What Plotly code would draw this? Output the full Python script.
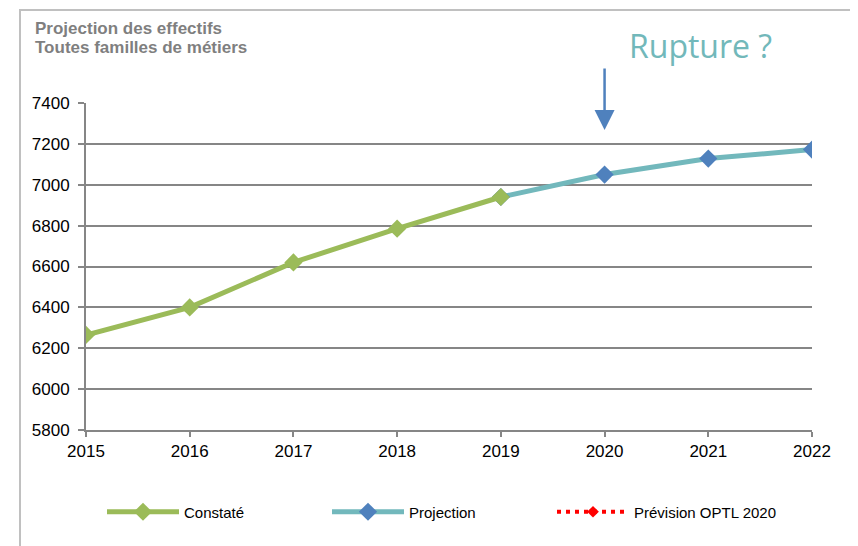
import plotly.graph_objects as go

years = [2015, 2016, 2017, 2018, 2019, 2020, 2021, 2022]
constate = [6265, 6400, 6620, 6785, 6940, None, None, None]
projection = [None, None, None, None, 6940, 7050, 7128, 7172]
prevision_optl = [None, None, None, None, None, None, None, None]

title_lines = ["Projection des effectifs", "Toutes familles de métiers"]
y_ticks = [5800, 6000, 6200, 6400, 6600, 6800, 7000, 7200, 7400]

GREEN = "#9BBB59"
TEAL = "#72B8BC"
BLUE = "#4F81BD"
FONT = "Liberation Sans, Arial, sans-serif"

fig = go.Figure()
fig.add_trace(go.Scatter(
    x=years, y=projection, name="Projection", mode="lines+markers",
    line=dict(color=TEAL, width=5),
    marker=dict(symbol="diamond", size=14, color=BLUE),
    legendrank=2,
))
fig.add_trace(go.Scatter(
    x=years, y=constate, name="Constaté", mode="lines+markers",
    line=dict(color=GREEN, width=5),
    marker=dict(symbol="diamond", size=14, color=GREEN),
    legendrank=1,
))
fig.add_trace(go.Scatter(
    x=years, y=prevision_optl, name="Prévision OPTL 2020", mode="lines+markers",
    line=dict(color="#FF0000", width=4, dash="4px,5px"),
    marker=dict(symbol="diamond", size=9, color="#FF0000"),
    legendrank=3,
))

# page is shown with an 8px body margin; plot area in screen px: x 86..812, y 103..430
OFF = 8
W, H = 858 - OFF, 546 - OFF
L, T = 86 - OFF, 103 - OFF
R = W - (812 - OFF)
B = H - (430 - OFF)
pw, ph = 812 - 86, 430 - 103

def px_x(s):
    return (s - 86) / pw

def px_y(s):
    return (430 - s) / ph

fig.update_layout(
    width=W, height=H,
    margin=dict(l=L, r=R, t=T, b=B),
    paper_bgcolor="white", plot_bgcolor="white",
    font=dict(family=FONT, size=17, color="black"),
    showlegend=True,
    legend=dict(
        orientation="h", x=px_x(102), xanchor="left", y=px_y(512), yanchor="middle",
        font=dict(size=15), itemwidth=72, entrywidth=138, entrywidthmode="pixels",
        bgcolor="rgba(0,0,0,0)",
    ),
    xaxis=dict(
        range=[2015, 2022], tickmode="array", tickvals=years,
        showgrid=False, showline=True, linecolor="#868686", linewidth=2,
        ticks="outside", ticklen=5, tickcolor="#868686", tickwidth=2,
        zeroline=False, fixedrange=True,
    ),
    yaxis=dict(
        range=[5800, 7400], tickmode="array", tickvals=y_ticks,
        showgrid=True, gridcolor="#868686", gridwidth=2,
        showline=True, linecolor="#868686", linewidth=2,
        ticks="outside", ticklen=6, tickcolor="#868686", tickwidth=2,
        ticklabelstandoff=5,
        zeroline=False, fixedrange=True,
    ),
    shapes=[dict(
        type="rect", xref="paper", yref="paper",
        x0=px_x(20), x1=px_x(852), y0=px_y(560), y1=px_y(10),
        line=dict(color="#C0C0C0", width=2), fillcolor="rgba(0,0,0,0)", layer="below",
    )],
    annotations=[
        dict(
            text="<b>" + title_lines[0] + "</b>", xref="paper", yref="paper",
            x=px_x(33), y=px_y(29), xanchor="left", yanchor="middle",
            showarrow=False, font=dict(size=17, color="#7F7F7F", family=FONT),
        ),
        dict(
            text="<b>" + title_lines[1] + "</b>", xref="paper", yref="paper",
            x=px_x(33), y=px_y(48), xanchor="left", yanchor="middle",
            showarrow=False, font=dict(size=17, color="#7F7F7F", family=FONT),
        ),
        dict(
            text="Rupture ?", xref="paper", yref="paper",
            x=px_x(700), y=px_y(45), xanchor="center", yanchor="middle",
            showarrow=False, font=dict(size=32, color="#72B8BA", family="Open Sans, sans-serif"),
        ),
        dict(
            text="", xref="x", yref="paper", x=2020, y=px_y(130),
            ax=0, ay=-63, showarrow=True, arrowhead=2, arrowsize=1.6,
            arrowwidth=2.5, arrowcolor=BLUE,
        ),
    ],
)

fig.write_html("out.html")
